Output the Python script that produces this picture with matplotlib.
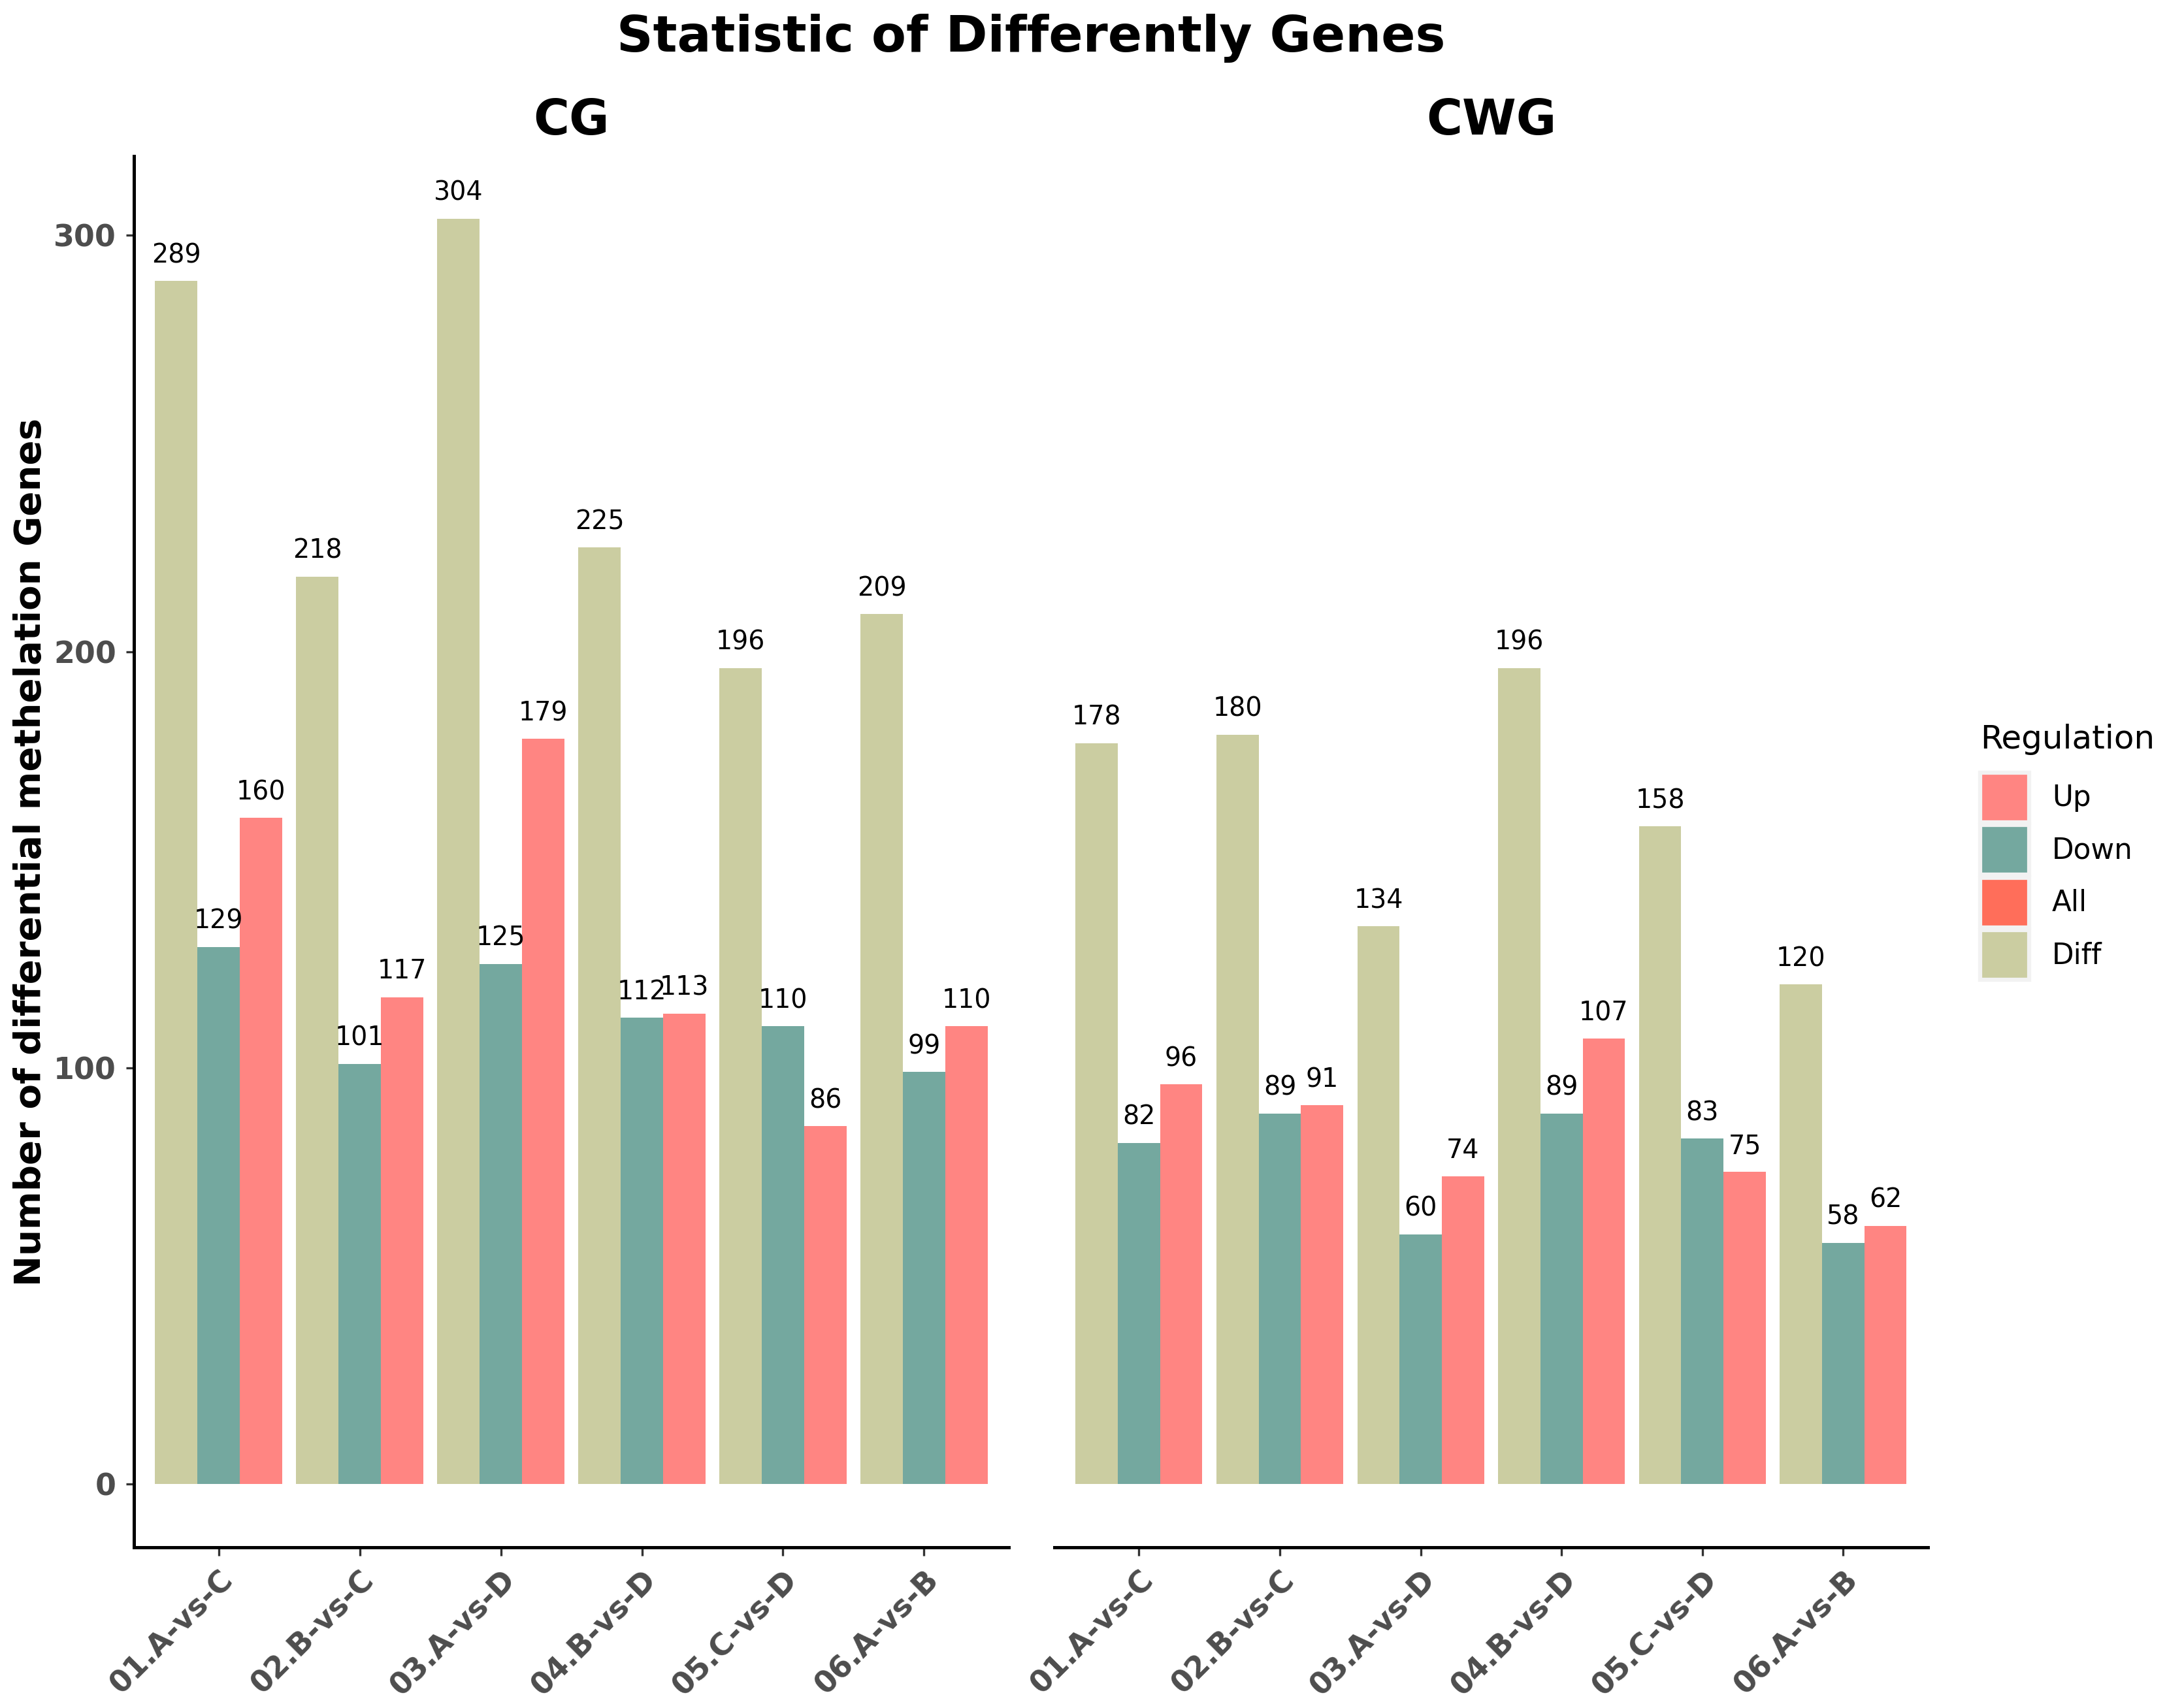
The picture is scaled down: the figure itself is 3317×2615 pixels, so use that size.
import matplotlib
matplotlib.use("Agg")
import matplotlib.pyplot as plt
import numpy as np
from matplotlib.patches import Patch

# data
groups = ["01.A-vs-C", "02.B-vs-C", "03.A-vs-D", "04.B-vs-D", "05.C-vs-D", "06.A-vs-B"]
panels = ["CG", "CWG"]
cg_diff = [289, 218, 304, 225, 196, 209]
cg_down = [129, 101, 125, 112, 110, 99]
cg_up = [160, 117, 179, 113, 86, 110]
cwg_diff = [178, 180, 134, 196, 158, 120]
cwg_down = [82, 89, 60, 89, 83, 58]
cwg_up = [96, 91, 74, 107, 75, 62]

colors = {"Up": "#FF8582", "Down": "#74A89F", "All": "#FF6E5A", "Diff": "#CBCDA1"}

fig = plt.figure(figsize=(3317 / 300, 2615 / 300), dpi=300)
ax1 = fig.add_axes([0.0618, 0.094, 0.4037, 0.8146])
ax2 = fig.add_axes([0.4866, 0.094, 0.403, 0.8146])

x = np.arange(len(groups))
w = 0.3
panel_data = [(ax1, cg_diff, cg_down, cg_up), (ax2, cwg_diff, cwg_down, cwg_up)]

for i, (ax, diff, down, up) in enumerate(panel_data):
    for off, vals, key in [(-w, diff, "Diff"), (0, down, "Down"), (w, up, "Up")]:
        ax.bar(x + off, vals, width=w, color=colors[key], linewidth=0)
        for xi, v in zip(x + off, vals):
            ax.text(xi, v + 3, str(v), ha="center", va="bottom", fontsize=9.5)
    ax.set_xlim(-0.6, 5.6)
    ax.set_ylim(-15.2, 319)
    ax.set_xticks(x)
    ax.set_xticklabels(groups, rotation=45, ha="right", rotation_mode="anchor",
                       fontsize=11, fontweight="bold", color="#4D4D4D")
    ax.set_title(panels[i], fontsize=18, fontweight="bold", pad=8)
    ax.spines["top"].set_visible(False)
    ax.spines["right"].set_visible(False)
    ax.spines["bottom"].set_linewidth(1.2)
    ax.spines["left"].set_linewidth(1.2)
    ax.tick_params(axis="x", length=3, width=0.8, color="#333333")

ax1.set_yticks([0, 100, 200, 300])
ax1.set_yticklabels(["0", "100", "200", "300"], fontsize=11, fontweight="bold", color="#4D4D4D")
ax1.tick_params(axis="y", length=3, width=0.8, color="#333333")
ax1.set_ylabel("Number of differential methelation Genes", fontsize=13.5,
               fontweight="bold", labelpad=2)

ax2.spines["left"].set_visible(False)
ax2.set_yticks([])

fig.suptitle("Statistic of Differently Genes", fontsize=18.5, fontweight="bold",
             x=0.4758, y=0.992)

# legend title drawn on its own so the gap to the keys matches
fig.text(0.9139, 0.567, "Regulation", fontsize=12, ha="left", va="center")
handles = [Patch(facecolor=colors[k], edgecolor="#F2F2F2", linewidth=1.5, label=k)
           for k in ["Up", "Down", "All", "Diff"]]
fig.legend(handles=handles, loc="upper left",
           bbox_to_anchor=(0.9139, 0.5477), frameon=False, fontsize=10.5,
           handlelength=1.7, handleheight=2.3,
           labelspacing=0.1, handletextpad=0.8, borderpad=0, borderaxespad=0)

fig.savefig("out.png", dpi=300, facecolor="white")
